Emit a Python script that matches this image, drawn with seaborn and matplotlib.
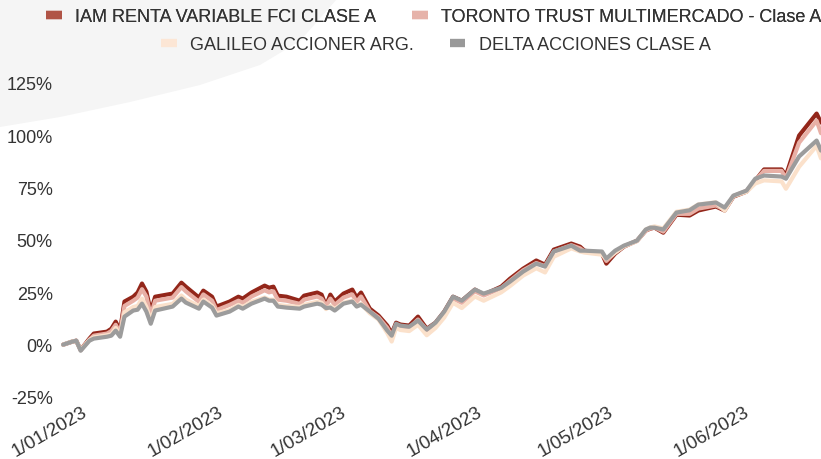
import matplotlib
matplotlib.use("Agg")
import matplotlib.pyplot as plt
from matplotlib.lines import Line2D
from matplotlib.patches import Polygon
import seaborn as sns
import pandas as pd

# --- data (cumulative return, %) ---
dates = [
    "2023-01-04", "2023-01-06", "2023-01-07", "2023-01-08", "2023-01-10", "2023-01-11",
    "2023-01-14", "2023-01-15", "2023-01-16", "2023-01-17", "2023-01-18", "2023-01-20",
    "2023-01-21", "2023-01-22", "2023-01-23", "2023-01-24", "2023-01-25", "2023-01-29",
    "2023-01-31", "2023-02-01", "2023-02-04", "2023-02-05", "2023-02-07", "2023-02-08",
    "2023-02-11", "2023-02-13", "2023-02-14", "2023-02-16", "2023-02-19", "2023-02-20",
    "2023-02-21", "2023-02-22", "2023-02-24", "2023-02-27", "2023-02-28", "2023-03-03",
    "2023-03-04", "2023-03-05", "2023-03-06", "2023-03-07", "2023-03-09", "2023-03-11",
    "2023-03-12", "2023-03-13", "2023-03-15", "2023-03-17", "2023-03-19", "2023-03-20",
    "2023-03-21", "2023-03-22", "2023-03-24", "2023-03-26", "2023-03-28", "2023-03-30",
    "2023-04-01", "2023-04-03", "2023-04-05", "2023-04-08", "2023-04-10", "2023-04-14",
    "2023-04-16", "2023-04-19", "2023-04-22", "2023-04-24", "2023-04-26", "2023-04-30",
    "2023-05-02", "2023-05-03", "2023-05-07", "2023-05-08", "2023-05-10", "2023-05-12",
    "2023-05-15", "2023-05-17", "2023-05-18", "2023-05-19", "2023-05-21", "2023-05-24",
    "2023-05-27", "2023-05-29", "2023-06-02", "2023-06-04", "2023-06-06", "2023-06-09",
    "2023-06-11", "2023-06-13", "2023-06-17", "2023-06-18", "2023-06-21", "2023-06-25",
    "2023-06-26",
]

iam = [
    0.0, 1.4, 1.9, -2.5, 2.9, 5.3, 6.2, 7.6, 11.0, 6.7, 20.6, 22.9,
    24.9, 29.2, 25.3, 15.8, 22.9, 24.4, 29.6, 27.7, 22.5, 25.8, 22.9, 18.2,
    20.6, 22.9, 22.0, 24.9, 28.2, 27.2, 27.7, 23.4, 22.9, 21.0, 23.4, 24.9,
    23.9, 18.6, 23.9, 20.6, 24.4, 26.3, 22.5, 24.9, 17.2, 13.9, 9.1, 5.3,
    10.5, 9.6, 9.1, 13.4, 7.6, 10.5, 15.8, 22.9, 21.0, 26.3, 23.9, 27.7,
    31.5, 36.3, 40.2, 38.2, 45.4, 48.3, 46.8, 44.9, 43.5, 38.7, 43.5, 46.8,
    49.7, 54.5, 55.4, 55.9, 53.5, 62.1, 61.7, 64.1, 66.0, 64.1, 70.7, 73.1,
    78.4, 83.7, 83.7, 80.8, 99.9, 110.4, 106.1,
]

toronto = [
    0.0, 1.4, 1.8, -2.7, 2.4, 4.3, 5.3, 6.5, 9.5, 5.5, 18.5, 21.0,
    22.5, 26.5, 23.0, 14.0, 21.0, 22.5, 27.5, 25.5, 20.5, 24.0, 21.0, 16.5,
    19.0, 21.0, 20.0, 23.0, 26.0, 25.0, 25.5, 21.5, 21.0, 19.5, 21.5, 23.0,
    22.0, 18.5, 22.0, 19.0, 22.5, 24.0, 20.5, 23.0, 16.0, 13.0, 8.0, 4.0,
    9.5, 8.5, 8.0, 12.0, 7.0, 10.0, 15.0, 22.0, 20.0, 25.5, 23.5, 27.0,
    30.5, 35.5, 39.0, 37.5, 44.5, 47.5, 46.0, 44.5, 43.5, 40.0, 44.0, 47.0,
    49.5, 54.5, 55.5, 56.0, 54.0, 62.5, 62.5, 65.0, 66.5, 64.5, 71.0, 73.5,
    78.5, 83.0, 83.0, 79.5, 96.5, 107.0, 101.0,
]

galileo = [
    0.0, 1.5, 1.8, -2.5, 2.2, 3.5, 4.5, 5.0, 8.0, 4.5, 15.5, 18.0,
    18.5, 22.0, 18.0, 11.5, 18.0, 19.5, 23.5, 21.5, 18.5, 21.5, 18.5, 15.0,
    16.5, 19.0, 18.0, 20.5, 22.5, 21.5, 21.5, 19.0, 18.5, 18.0, 19.0, 20.5,
    20.0, 17.0, 18.5, 17.0, 20.0, 21.0, 18.5, 19.5, 15.0, 12.0, 5.5, 1.5,
    8.0, 7.0, 6.5, 9.5, 4.5, 8.0, 13.0, 20.0, 17.5, 23.0, 21.0, 25.0,
    28.0, 33.0, 36.5, 34.5, 42.0, 46.0, 44.5, 44.0, 43.0, 41.0, 44.0, 47.0,
    49.5, 55.0, 56.0, 56.5, 55.5, 63.5, 64.5, 67.0, 68.0, 64.0, 71.0, 73.0,
    77.0, 78.5, 78.0, 74.5, 85.0, 95.0, 89.0,
]

delta = [
    0.0, 1.4, 1.9, -2.9, 1.9, 2.9, 3.8, 4.3, 6.7, 3.8, 13.4, 16.3,
    16.7, 19.6, 15.8, 10.0, 16.3, 18.2, 22.0, 20.1, 17.2, 20.6, 17.7, 13.9,
    15.8, 18.2, 17.2, 19.6, 22.0, 21.0, 21.0, 18.2, 17.7, 17.2, 18.2, 19.6,
    19.1, 17.5, 17.7, 16.3, 19.6, 20.6, 18.2, 19.1, 15.8, 12.4, 6.7, 4.3,
    10.0, 9.1, 8.6, 11.5, 7.2, 10.5, 15.8, 22.9, 21.0, 26.3, 24.4, 27.2,
    30.1, 34.9, 38.7, 37.3, 44.5, 47.3, 44.9, 44.9, 44.5, 41.1, 44.9, 47.3,
    49.7, 55.0, 55.9, 55.9, 55.0, 63.1, 64.2, 66.9, 67.9, 65.5, 71.2, 73.6,
    79.3, 80.8, 80.3, 79.3, 89.9, 97.5, 92.7,
]

fund_names = [
    "IAM RENTA VARIABLE FCI CLASE A",
    "TORONTO TRUST MULTIMERCADO - Clase A",
    "GALILEO ACCIONER ARG.",
    "DELTA ACCIONES CLASE A",
]
line_colors = ["#93261a", "#e8b0a6", "#fbe1cb", "#9c9c9c"]
legend_colors = ["#b05446", "#e6b3aa", "#fce6d5", "#999999"]

month_ticks = ["2023-01-01", "2023-02-01", "2023-03-01", "2023-04-01", "2023-05-01", "2023-06-01"]
month_labels = ["1/01/2023", "1/02/2023", "1/03/2023", "1/04/2023", "1/05/2023", "1/06/2023"]
y_ticks = [-25, 0, 25, 50, 75, 100, 125]

# long format for seaborn
df = pd.DataFrame({"date": pd.to_datetime(dates)})
for name, vals in zip(fund_names, [iam, toronto, galileo, delta]):
    df[name] = vals
long_df = df.melt(id_vars="date", var_name="fondo", value_name="rend")

sns.set_theme(style="white")
plt.rcParams["font.family"] = ["Liberation Sans", "DejaVu Sans"]
text_color = "#333333"

fig = plt.figure(figsize=(8.21, 4.60), dpi=100)
fig.patch.set_facecolor("white")

# decorative light grey swoosh in the top-left corner (behind everything)
W, H = 821.0, 460.0
swoosh_px = [(0, 0), (0, 128), (60, 118), (130, 103), (200, 86), (260, 66),
             (300, 42), (337, 0)]
swoosh = Polygon([(x / W, 1 - y / H) for x, y in swoosh_px], closed=True,
                 transform=fig.transFigure, facecolor="#f5f5f5",
                 edgecolor="none", zorder=-5)
fig.patches.append(swoosh)

ax = fig.add_axes([50 / W, 62 / H, 771 / W, 314 / H])
ax.patch.set_alpha(0)
ax.set_zorder(2)

sns.lineplot(data=long_df, x="date", y="rend", hue="fondo", hue_order=fund_names,
             palette=line_colors, linewidth=3.0, legend=False, ax=ax)
for ln in ax.get_lines():
    ln.set_solid_joinstyle("round")
    ln.set_solid_capstyle("round")

ax.set_xlim(pd.Timestamp("2023-01-01"), pd.Timestamp("2023-06-26"))
ax.set_ylim(-25, 125)
ax.set_yticks(y_ticks)
ax.set_yticklabels([f"{v}%" for v in y_ticks], color=text_color, fontsize=13)
ax.set_xticks(pd.to_datetime(month_ticks))
ax.set_xticklabels(month_labels, rotation=30, ha="center", color=text_color, fontsize=13.5)
ax.tick_params(axis="y", length=0, pad=-2)
ax.tick_params(axis="x", length=0, pad=4)
ax.set_xlabel("")
ax.set_ylabel("")
ax.grid(False)
sns.despine(ax=ax, left=True, bottom=True)

# legend: two centred rows
handles = [Line2D([], [], color=c, lw=6, solid_capstyle="butt") for c in legend_colors]
leg_kw = dict(frameon=False, ncol=2, handlelength=0.85, handletextpad=0.75,
              columnspacing=2.0, fontsize=13, labelcolor=text_color)
leg1 = fig.legend(handles[:2], fund_names[:2], loc="center",
                  bbox_to_anchor=(434 / W, 1 - 18 / H), **leg_kw)
fig.legend(handles[2:], fund_names[2:], loc="center",
           bbox_to_anchor=(436 / W, 1 - 46 / H), **leg_kw)
fig.add_artist(leg1)

fig.savefig("out.png", dpi=100)
plt.close(fig)
